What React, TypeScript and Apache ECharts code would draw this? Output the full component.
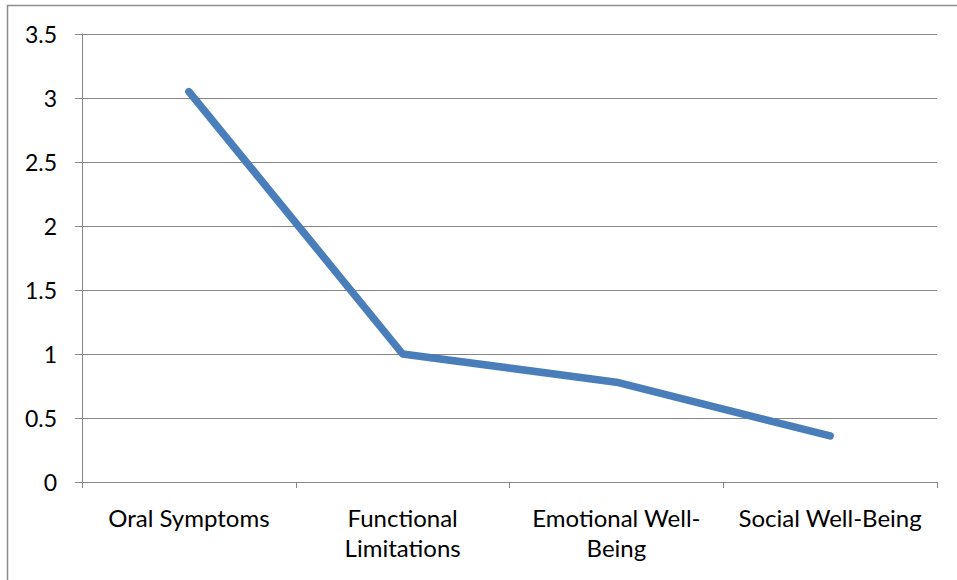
import React, { useEffect, useRef } from "react";
import * as echarts from "echarts";

const categories = ["Oral Symptoms", "Functional Limitations", "Emotional Well-Being", "Social Well-Being"];
const categoryLabels = ["Oral Symptoms", "Functional\nLimitations", "Emotional Well-\nBeing", "Social Well-Being"];
const values = [3.05, 1.0, 0.78, 0.36];

export default function App() {
  const ref = useRef<HTMLDivElement>(null);
  useEffect(() => {
    document.body.style.margin = "0";
    const chart = echarts.init(ref.current!, null, { renderer: "svg" });
    const font = "Lato, 'Open Sans', sans-serif";
    chart.setOption({
      animation: false,
      backgroundColor: "#ffffff",
      graphic: [
        {
          type: "rect",
          shape: { x: 7.5, y: 5.5, width: 1200, height: 1200 },
          style: { fill: "none", stroke: "#8c8c8c", lineWidth: 1.5 },
          silent: true,
        },
      ],
      grid: { left: 82, right: 20, top: 34, bottom: 98, containLabel: false },
      xAxis: {
        type: "category",
        data: categories,
        boundaryGap: true,
        axisLine: { show: true, lineStyle: { color: "#868686", width: 1 } },
        axisTick: { show: true, length: 6, lineStyle: { color: "#868686" } },
        axisLabel: {
          color: "#000",
          fontFamily: font,
          fontSize: 24,
          margin: 20,
          lineHeight: 30,
          interval: 0,
          formatter: (_v: string, i: number) => categoryLabels[i],
        },
        splitLine: { show: false },
      },
      yAxis: {
        type: "value",
        min: 0,
        max: 3.5,
        interval: 0.5,
        axisLine: { show: true, lineStyle: { color: "#868686", width: 1 } },
        axisTick: { show: true, length: 7, lineStyle: { color: "#868686" } },
        axisLabel: { color: "#000", fontFamily: font, fontSize: 23, margin: 25 },
        splitLine: { show: true, lineStyle: { color: "#868686", width: 1 } },
      },
      series: [
        {
          type: "line",
          data: values,
          symbol: "none",
          lineStyle: { color: "#4a7ebb", width: 7.5, cap: "round", join: "round" },
        },
      ],
    });
    return () => chart.dispose();
  }, []);
  return <div ref={ref} style={{ width: 957, height: 580 }} />;
}
